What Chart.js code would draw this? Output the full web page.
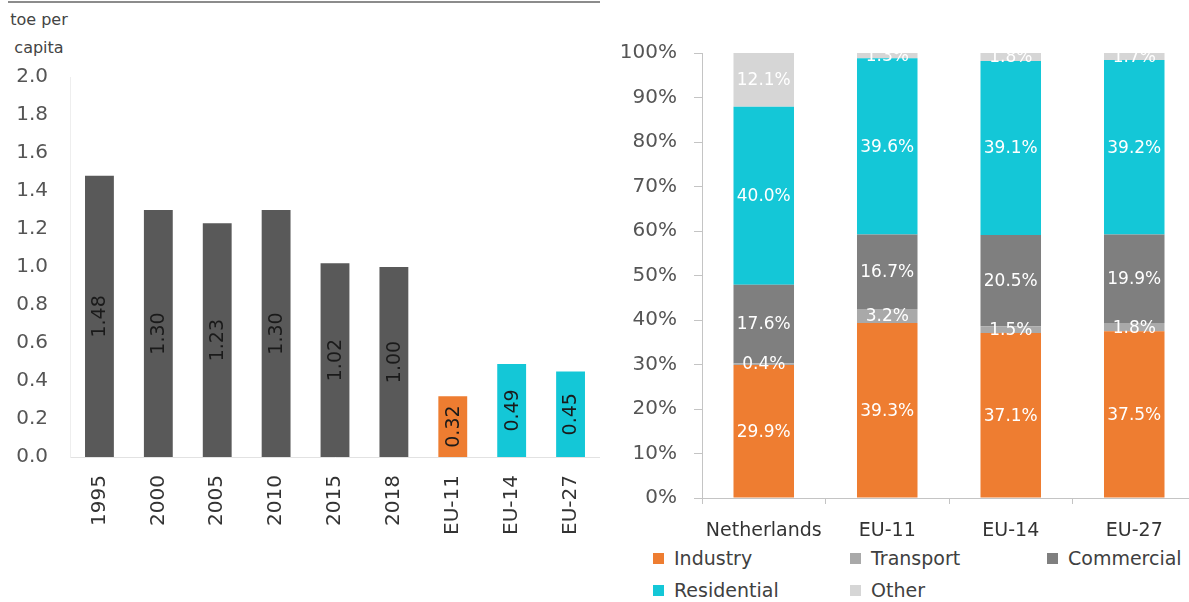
<!DOCTYPE html>
<html>
<head>
<meta charset="utf-8">
<script src="https://cdn.jsdelivr.net/npm/chart.js@4/dist/chart.umd.min.js"></script>
<style>
    html, body { margin: 0; padding: 0; background: #fff; overflow: hidden; }
    body { width: 1189px; height: 602px; position: relative; font-family: "DejaVu Sans", sans-serif; }
    .top-rule { position: absolute; left: 8px; top: 1px; width: 592px; height: 2px; background: #8c8c8c; }
    .unit-title { position: absolute; left: 6px; top: 6px; width: 66px; text-align: center; font-size: 16px; line-height: 28px; color: #444; }
    #leftWrap { position: absolute; left: 0; top: 0; width: 600px; height: 602px; }
    #rightWrap { position: absolute; left: 600px; top: 0; width: 596px; height: 545px; }
    .legend { position: absolute; left: 653px; top: 546px; display: grid; grid-template-columns: 197px 197px auto; row-gap: 8px; font-size: 19px; color: #404040; }
    .legend-item { display: flex; align-items: center; height: 24px; }
    .legend-box { width: 11px; height: 11px; margin-right: 10px; }
</style>
</head>
<body>
<div class="top-rule"></div>
<div class="unit-title">toe per<br>capita</div>
<div id="leftWrap"><canvas id="perCapitaChart" width="600" height="602"></canvas></div>
<div id="rightWrap"><canvas id="sectorChart" width="596" height="545"></canvas></div>
<div class="legend" id="sectorLegend"></div>

<script>
// left chart: final energy per capita
const periods = ['1995', '2000', '2005', '2010', '2015', '2018', 'EU-11', 'EU-14', 'EU-27'];
const perCapita = [1.48, 1.30, 1.23, 1.30, 1.02, 1.00, 0.32, 0.49, 0.45];
const perCapitaTicks = [0, 0.2, 0.4, 0.6, 0.8, 1.0, 1.2, 1.4, 1.6, 1.8, 2.0];

// right chart: share by sector
const regions = ['Netherlands', 'EU-11', 'EU-14', 'EU-27'];
const industry = [29.9, 39.3, 37.1, 37.5];
const transport = [0.4, 3.2, 1.5, 1.8];
const commercial = [17.6, 16.7, 20.5, 19.9];
const residential = [40.0, 39.6, 39.1, 39.2];
const other = [12.1, 1.3, 1.8, 1.7];
const sectorNames = ['Industry', 'Transport', 'Commercial', 'Residential', 'Other'];

document.addEventListener('DOMContentLoaded', function() {

    const FONT = '"DejaVu Sans", sans-serif';
    const ORANGE = '#ee7d31';
    const CYAN = '#14c7d7';
    const sectorColors = [ORANGE, '#a9a9a9', '#7f7f7f', CYAN, '#d6d6d6'];

    const barColor = (label) => {
        if (label === 'EU-11') return ORANGE;
        if (label.startsWith('EU-')) return CYAN;
        return '#595959';
    };

    // draws the value inside each bar, optionally rotated
    const valueLabels = {
        id: 'valueLabels',
        afterDatasetsDraw(chart, args, opts) {
            const ctx = chart.ctx;
            ctx.save();
            ctx.font = opts.font;
            ctx.fillStyle = opts.color;
            ctx.textAlign = 'center';
            ctx.textBaseline = 'middle';
            chart.data.datasets.forEach((ds, di) => {
                chart.getDatasetMeta(di).data.forEach((bar, i) => {
                    const text = opts.format(ds.data[i]);
                    const cy = (bar.y + bar.base) / 2;
                    ctx.save();
                    ctx.translate(bar.x, cy);
                    if (opts.rotate) ctx.rotate(-Math.PI / 2);
                    ctx.fillText(text, 0, 1);
                    ctx.restore();
                });
            });
            ctx.restore();
        }
    };

    const initPerCapitaChart = () => {
        const ctx = document.getElementById('perCapitaChart').getContext('2d');
        new Chart(ctx, {
            type: 'bar',
            data: {
                labels: periods,
                datasets: [{
                    data: perCapita,
                    backgroundColor: periods.map(barColor),
                    barPercentage: 0.49,
                    categoryPercentage: 1
                }]
            },
            plugins: [valueLabels],
            options: {
                responsive: false,
                animation: false,
                layout: { padding: { top: 77, right: 0, bottom: 0, left: 0 } },
                plugins: {
                    legend: { display: false },
                    tooltip: { enabled: false },
                    valueLabels: {
                        font: '19px ' + FONT,
                        color: '#1a1a1a',
                        rotate: true,
                        format: v => v.toFixed(2)
                    }
                },
                scales: {
                    x: {
                        grid: { display: false, drawTicks: false },
                        border: { color: '#e2e2e2' },
                        ticks: {
                            autoSkip: false,
                            minRotation: 90,
                            maxRotation: 90,
                            padding: 18,
                            color: '#333',
                            font: { family: FONT, size: 20 }
                        },
                        afterFit: (scale) => {
                            scale.height = 145;
                            scale.paddingLeft = 0;
                            scale.paddingRight = 0;
                        }
                    },
                    y: {
                        min: 0,
                        max: 2,
                        afterBuildTicks: (scale) => {
                            scale.ticks = perCapitaTicks.map(v => ({ value: v }));
                        },
                        grid: { display: false, drawTicks: false },
                        border: { color: '#eeeeee' },
                        ticks: {
                            padding: 22,
                            color: '#555',
                            font: { family: FONT, size: 20 },
                            callback: v => v.toFixed(1)
                        },
                        afterFit: (scale) => { scale.width = 70; }
                    }
                }
            }
        });
    };

    const initSectorChart = () => {
        const series = [industry, transport, commercial, residential, other];
        const ctx = document.getElementById('sectorChart').getContext('2d');
        new Chart(ctx, {
            type: 'bar',
            data: {
                labels: regions,
                datasets: series.map((values, i) => ({
                    label: sectorNames[i],
                    data: values,
                    backgroundColor: sectorColors[i],
                    barPercentage: 0.49,
                    categoryPercentage: 1
                }))
            },
            plugins: [valueLabels],
            options: {
                responsive: false,
                animation: false,
                layout: { padding: { top: 53, right: 0, bottom: 0, left: 0 } },
                plugins: {
                    legend: { display: false },
                    tooltip: { enabled: false },
                    valueLabels: {
                        font: '17px ' + FONT,
                        color: '#ffffff',
                        rotate: false,
                        format: v => v.toFixed(1) + '%'
                    }
                },
                scales: {
                    x: {
                        stacked: true,
                        grid: { display: true, drawOnChartArea: false, tickLength: 6, color: '#c4c4c4' },
                        border: { color: '#c4c4c4' },
                        ticks: {
                            padding: 16,
                            color: '#333',
                            font: { family: FONT, size: 19 }
                        },
                        afterFit: (scale) => { scale.height = 47; }
                    },
                    y: {
                        stacked: true,
                        min: 0,
                        max: 100,
                        grid: { display: true, drawOnChartArea: false, tickLength: 8, color: '#c4c4c4' },
                        border: { color: '#c4c4c4' },
                        ticks: {
                            stepSize: 10,
                            padding: 17,
                            color: '#555',
                            font: { family: FONT, size: 20 },
                            callback: v => v + '%'
                        },
                        afterFit: (scale) => { scale.width = 102; }
                    }
                }
            }
        });

        // legend laid out in three columns like the original
        const legend = document.getElementById('sectorLegend');
        sectorNames.forEach((name, i) => {
            const item = document.createElement('div');
            item.className = 'legend-item';
            const box = document.createElement('span');
            box.className = 'legend-box';
            box.style.background = sectorColors[i];
            item.appendChild(box);
            item.appendChild(document.createTextNode(name));
            legend.appendChild(item);
        });
    };

    initPerCapitaChart();
    initSectorChart();
});
</script>
</body>
</html>
